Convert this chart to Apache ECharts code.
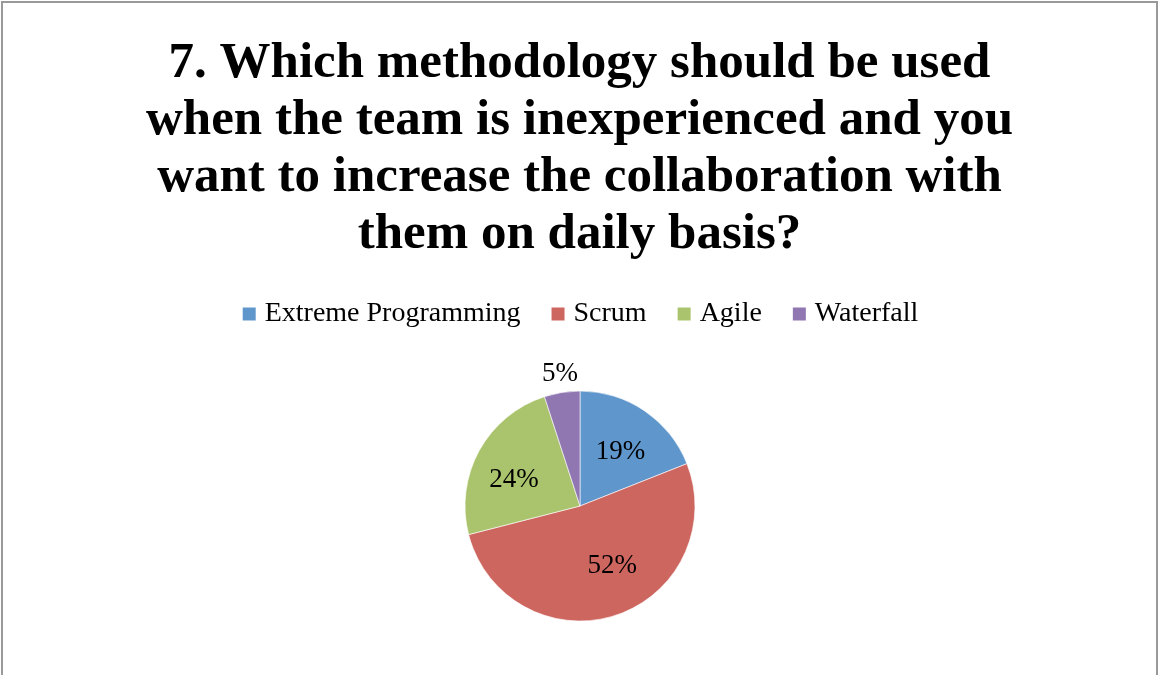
<!DOCTYPE html>
<html>
<head>
<meta charset="utf-8">
<script src="https://cdn.jsdelivr.net/npm/echarts@6/dist/echarts.min.js"></script>
<style>
  html, body { margin: 0; padding: 0; background: #fff; }
  #chart { width: 1159px; height: 675px; }
</style>
</head>
<body>
<div id="chart"></div>
<script>
// Survey question 7: preferred methodology for an inexperienced team
const titleText = '7. Which methodology should be used\nwhen the team is inexperienced and you\nwant to increase the collaboration with\nthem on daily basis?';
const categories = ['Extreme Programming', 'Scrum', 'Agile', 'Waterfall'];
const shares = [19, 52, 24, 5];
const palette = ['#5F96CB', '#CE6660', '#AAC46D', '#9077B2'];

const serif = '"Liberation Serif", "DejaVu Serif", serif';
const outsideNames = ['Waterfall'];

// Small nudges so each percentage sits where it reads best in its slice
const labelNudge = {
  'Extreme Programming': [0, 5],
  'Scrum': [10, -9],
  'Agile': [-3, 9],
  'Waterfall': [24, 0]
};

const labelFont = { fontFamily: serif, fontSize: 27, color: '#000' };

// Slices: the small slice carries its own label outside the pie
const sliceData = categories.map((name, i) => {
  const item = { name: name, value: shares[i] };
  if (outsideNames.includes(name)) {
    item.label = { show: true, position: 'outside', offset: labelNudge[name] };
    item.labelLine = { show: false, length: 19, length2: 0 };
  }
  return item;
});

// Transparent ring over the pie that carries the inside labels a bit further out
const labelRingData = categories.map((name, i) => ({
  name: name,
  value: shares[i],
  label: { show: !outsideNames.includes(name), offset: labelNudge[name] }
}));

const chart = echarts.init(document.getElementById('chart'), null, { renderer: 'canvas' });
chart.setOption({
  animation: false,
  color: palette,
  title: {
    text: titleText,
    left: 'center',
    top: 30,
    textStyle: {
      fontFamily: serif,
      fontWeight: 'bold',
      fontSize: 51,
      lineHeight: 57,
      color: '#000'
    }
  },
  legend: {
    data: categories,
    top: 295,
    left: 'center',
    icon: 'rect',
    itemWidth: 15,
    itemHeight: 15,
    itemGap: 29,
    textStyle: { fontFamily: serif, fontSize: 28, color: '#000', padding: [0, 0, 0, 3] }
  },
  graphic: [{
    type: 'rect',
    shape: { x: 2, y: 2, width: 1155, height: 700 },
    style: { fill: 'none', stroke: '#999', lineWidth: 2 },
    silent: true
  }],
  series: [{
    type: 'pie',
    center: [580, 506],
    radius: [0, 115],
    startAngle: 90,
    clockwise: true,
    avoidLabelOverlap: false,
    itemStyle: { borderColor: '#fff', borderWidth: 0.6 },
    label: Object.assign({ show: false, formatter: '{c}%' }, labelFont),
    labelLine: { show: false },
    emphasis: { disabled: true },
    data: sliceData
  }, {
    type: 'pie',
    center: [580, 506],
    radius: [23, 115],
    startAngle: 90,
    clockwise: true,
    silent: true,
    avoidLabelOverlap: false,
    itemStyle: { color: 'rgba(0,0,0,0)', borderWidth: 0 },
    label: Object.assign({ position: 'inside', formatter: '{c}%' }, labelFont),
    labelLine: { show: false },
    emphasis: { disabled: true },
    data: labelRingData
  }]
});
</script>
</body>
</html>
